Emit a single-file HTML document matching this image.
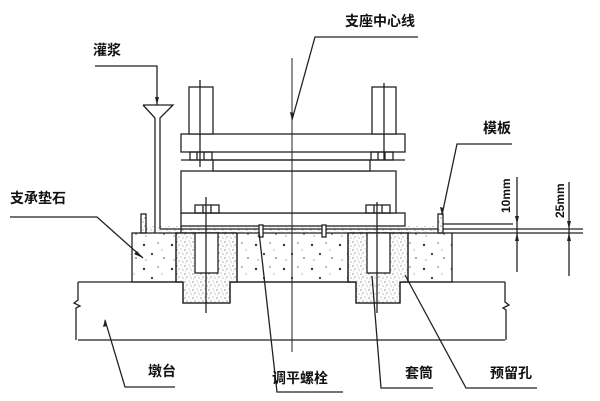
<!DOCTYPE html>
<html><head><meta charset="utf-8"><style>
html,body{margin:0;padding:0;background:#fff;}
svg{display:block}
text{font-family:"Liberation Sans","Noto Sans CJK SC",sans-serif;font-weight:bold;fill:#111}
</style></head><body>
<svg width="600" height="401" viewBox="0 0 600 401" xmlns="http://www.w3.org/2000/svg">
<defs>
<pattern id="conc" width="28" height="24" patternUnits="userSpaceOnUse">
<circle cx="4" cy="5" r="1.2" fill="#333"/><circle cx="18" cy="3" r="0.7" fill="#555"/>
<circle cx="12" cy="14" r="1.1" fill="#333"/><circle cx="24" cy="18" r="0.8" fill="#444"/>
<circle cx="6" cy="20" r="0.6" fill="#666"/><circle cx="22" cy="10" r="0.5" fill="#666"/>
</pattern>
<pattern id="grout" width="8" height="8" patternUnits="userSpaceOnUse">
<circle cx="1" cy="2" r="0.6" fill="#555"/><circle cx="5" cy="1" r="0.5" fill="#777"/>
<circle cx="3" cy="5" r="0.6" fill="#666"/><circle cx="7" cy="6" r="0.5" fill="#555"/>
<circle cx="6" cy="3.5" r="0.4" fill="#888"/><circle cx="1.5" cy="7" r="0.4" fill="#888"/>
</pattern>
</defs>
<g stroke="#222" stroke-width="1.3" fill="none">
<!-- beam -->
<path d="M78 282 H505 M78 340 H505 M78 282 V300 L74 303 L80 306 L76 308 V340 M505 282 V302 L509 305 L503 308 L506 310 V340"/>
<!-- pedestal concrete -->
<rect x="132" y="233" width="320" height="49" fill="url(#conc)"/>
<!-- recesses -->
<path d="M176 233 H237 V282 H230 V303 H183 V282 H176 Z" fill="#fff"/>
<path d="M176 233 H237 V282 H230 V303 H183 V282 H176 Z" fill="url(#grout)"/>
<path d="M348 233 H408 V282 H400 V303 H356 V282 H348 Z" fill="#fff"/>
<path d="M348 233 H408 V282 H400 V303 H356 V282 H348 Z" fill="url(#grout)"/>
<rect x="195" y="233" width="23" height="40" fill="#fff"/>
<rect x="367" y="233" width="23" height="40" fill="#fff"/>
<!-- grout layer -->
<rect x="146" y="226" width="292" height="7" fill="url(#grout)" stroke="none"/>
<path d="M160 229 H438 M181 226 V233"/>
<!-- formwork -->
<rect x="141" y="214" width="5" height="19" fill="url(#grout)"/>
<rect x="438" y="214" width="5" height="19" fill="url(#grout)"/>
<!-- bearing -->
<rect x="181" y="213" width="224" height="13" fill="#fff"/>
<rect x="181" y="171" width="215" height="42" fill="#fff"/>
<rect x="213" y="160" width="157" height="11" fill="#fff"/>
<rect x="181" y="134" width="224" height="18" fill="#fff"/>
<path d="M181 160 H405"/>
<rect x="189" y="87" width="24" height="47" fill="#fff"/>
<rect x="372" y="87" width="24" height="47" fill="#fff"/>
<!-- nuts -->
<rect x="190" y="152" width="22" height="8"/><path d="M197 152V160 M204 152V160"/>
<rect x="371" y="152" width="22" height="8"/><path d="M378 152V160 M385 152V160"/>
<rect x="195" y="205" width="24" height="8"/><path d="M203 205V213 M211 205V213"/>
<rect x="366" y="205" width="24" height="8"/><path d="M374 205V213 M382 205V213"/>
<!-- bolts -->
<path d="M200 80 V167 M384 83 V160 M206 197 V313 M377 202 V313"/>
<!-- leveling bolts -->
<rect x="259" y="225" width="4" height="12" fill="#fff"/>
<rect x="322" y="225" width="4" height="12" fill="#fff"/>
<!-- grout pipe + funnel -->
<path d="M143 105 H173 L160 118 V229 M143 105 L155 118 V233"/>
<path d="M95 66 H157 V105"/>
<!-- centerline -->
<path d="M292 58 V352" stroke-width="1"/>
<!-- leaders -->
<path d="M418 37 H315 L292 120"/>
<path d="M512 144 H457 L442 215"/>
<path d="M10 217 H97 L143 258"/>
<path d="M175 387 H125 L105 320"/>
<path d="M343 392 H277 L259 232"/>
<path d="M433 388 H381 L372 276"/>
<path d="M537 388 H466 L405 275"/>
<!-- dims -->
<path d="M443 224 H513 M443 229 H583 M452 233 H583"/>
<path d="M517 177 V272 M569 182 V276"/>
</g>
<g fill="#222">
<path d="M155 97 L159 97 L157 105Z"/>
<path d="M290 112 L294 113 L292 121Z"/>
<path d="M440 207 L444 208 L442 215Z"/>
<path d="M134 254 L137 251 L143 258Z"/>
<path d="M103 327 L107 326 L105 319Z"/>
<path d="M515 216 L519 216 L517 224Z M515 241 L519 241 L517 233Z"/>
<path d="M567 221 L571 221 L569 229Z M567 241 L571 241 L569 233Z"/>
</g>
<text x="93" y="55" font-size="14">灌浆</text>
<text x="345" y="26" font-size="14">支座中心线</text>
<text x="483" y="133" font-size="14">模板</text>
<text x="10" y="203" font-size="14">支承垫石</text>
<text x="148" y="376" font-size="14">墩台</text>
<text x="272" y="383" font-size="14">调平螺栓</text>
<text x="405" y="378" font-size="14">套筒</text>
<text x="490" y="378" font-size="14">预留孔</text>
<text font-size="12" transform="translate(510,213) rotate(-90)">10mm</text>
<text font-size="12" transform="translate(564,218) rotate(-90)">25mm</text>
</svg>
</body></html>
